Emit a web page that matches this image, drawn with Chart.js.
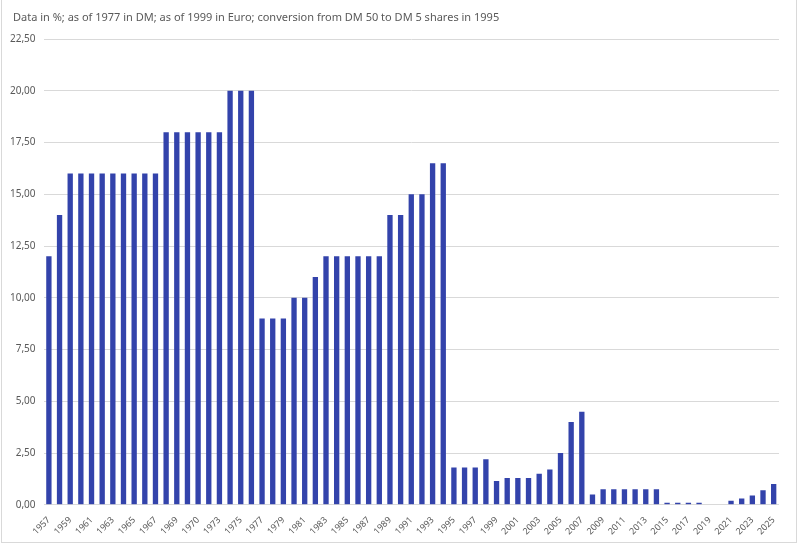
<!DOCTYPE html>
<html>
<head>
<meta charset="utf-8">
<script src="https://cdn.jsdelivr.net/npm/chart.js@4"></script>
<style>
  html, body { margin: 0; padding: 0; background: #fff; }
  #wrap { position: absolute; left: 1px; top: 0; width: 796px; height: 543px; border: 1px solid #d9d9d9; border-top: none; box-sizing: border-box; }
  #note { position: absolute; left: 13px; top: 9px; font: 11px 'Noto Sans', sans-serif; color: #595959; }
</style>
</head>
<body>
<div id="wrap"><canvas id="chartDividend"></canvas></div>
<div id="note">Data in %; as of 1977 in DM; as of 1999 in Euro; conversion from DM 50 to DM 5 shares in 1995</div>
<script>
const years = ['1957','1958','1959','1960','1961','1962','1963','1964','1965','1966','1967','1968','1969','1970','1970','1972','1973','1974','1975','1976','1977','1978','1979','1980','1981','1982','1983','1984','1985','1986','1987','1988','1989','1990','1991','1992','1993','1994','1995','1996','1997','1998','1999','2000','2001','2002','2003','2004','2005','2006','2007','2008','2009','2010','2011','2012','2013','2014','2015','2016','2017','2018','2019','2020','2021','2022','2023','2024','2025'];

const dividend = [12, 14, 16, 16, 16, 16, 16, 16, 16, 16, 16, 18, 18, 18, 18, 18, 18, 20, 20, 20, 9, 9, 9, 10, 10, 11, 12, 12, 12, 12, 12, 12, 14, 14, 15, 15, 16.5, 16.5, 1.8, 1.8, 1.8, 2.2, 1.15, 1.3, 1.3, 1.3, 1.5, 1.7, 2.5, 4.0, 4.5, 0.5, 0.75, 0.75, 0.75, 0.75, 0.75, 0.75, 0.1, 0.1, 0.1, 0.1, 0, 0, 0.2, 0.3, 0.45, 0.7, 1.0];

const yMax = 22.5;
const yStep = 2.5;

const dataDividend = {
  labels: years,
  datasets: [{
    data: dividend,
    backgroundColor: '#3343ab',
    borderWidth: 0,
    barPercentage: 0.5,
    categoryPercentage: 1
  }]
}

const optionsDividend = {
  responsive: true,
  maintainAspectRatio: false,
  animation: false,
  layout: { padding: { left: 0, right: 17, top: 39, bottom: 3 } },
  scales: {
    x: {
      grid: { display: false },
      border: { display: false },
      ticks: {
        autoSkip: false,
        maxRotation: 45,
        minRotation: 45,
        color: '#595959',
        font: { family: 'Noto Sans', size: 9 },
        padding: 2,
        callback: function(val, i) { return i % 2 === 0 ? this.getLabelForValue(val) : ''; }
      }
    },
    y: {
      min: 0,
      max: yMax,
      border: { display: false },
      grid: { color: '#d9d9d9', drawTicks: false },
      ticks: {
        stepSize: yStep,
        padding: 8,
        color: '#595959',
        font: { family: 'Noto Sans', size: 10 },
        callback: v => v.toFixed(2).replace('.', ',')
      }
    }
  },
  plugins: {
    legend: { display: false },
    tooltip: { enabled: false }
  }
}

const ctxDividend = document.getElementById('chartDividend');

new Chart(ctxDividend, {
  type: 'bar',
  data: dataDividend,
  options: optionsDividend
})
</script>
</body>
</html>
